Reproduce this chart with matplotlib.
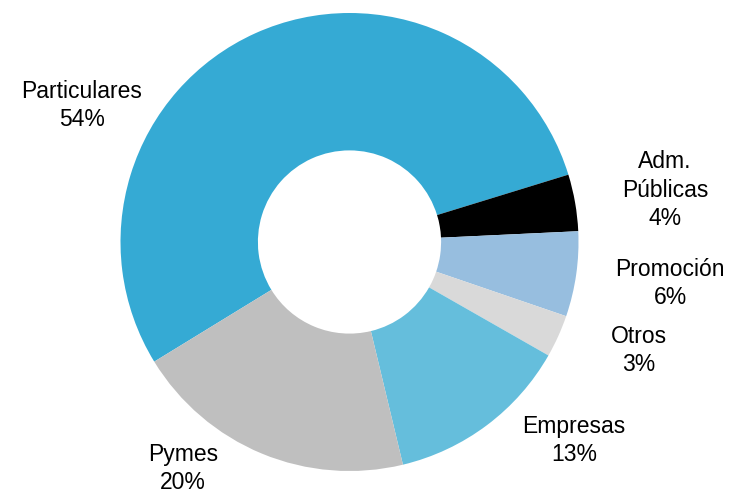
import matplotlib
matplotlib.use("Agg")
import matplotlib.pyplot as plt

# Share of clients by segment
categories = ["Particulares", "Adm.\nPúblicas", "Promoción", "Otros", "Empresas", "Pymes"]
shares = [54, 4, 6, 3, 13, 20]
colors = ["#35AAD4", "#000000", "#97BEDF", "#D9D9D9", "#65BEDC", "#BFBFBF"]

# Label anchor points (data units of the pie axes, radius = 1)
label_xy = [(-1.168, 0.598), (1.378, 0.227), (1.400, -0.183),
            (1.262, -0.472), (0.980, -0.865), (-0.727, -0.987)]

plt.rcParams["font.family"] = ["Liberation Sans", "DejaVu Sans"]

W, H = 735, 492
fig = plt.figure(figsize=(W / 100, H / 100), dpi=100)
cx, cy, r = 349.5, 242, 229
ax = fig.add_axes([(cx - r) / W, (H - cy - r) / H, 2 * r / W, 2 * r / H])

ax.pie(shares, colors=colors, startangle=211.5, counterclock=False,
       radius=1.0, wedgeprops=dict(width=0.6, edgecolor="none", linewidth=0))
ax.set_xlim(-1, 1)
ax.set_ylim(-1, 1)
ax.set_aspect("auto")
ax.axis("off")

for name, v, (x, y) in zip(categories, shares, label_xy):
    ax.text(x, y, f"{name}\n{v}%", ha="center", va="center", fontsize=16.5,
            linespacing=1.28, color="#000000", clip_on=False)

fig.savefig("out.png", dpi=100)
